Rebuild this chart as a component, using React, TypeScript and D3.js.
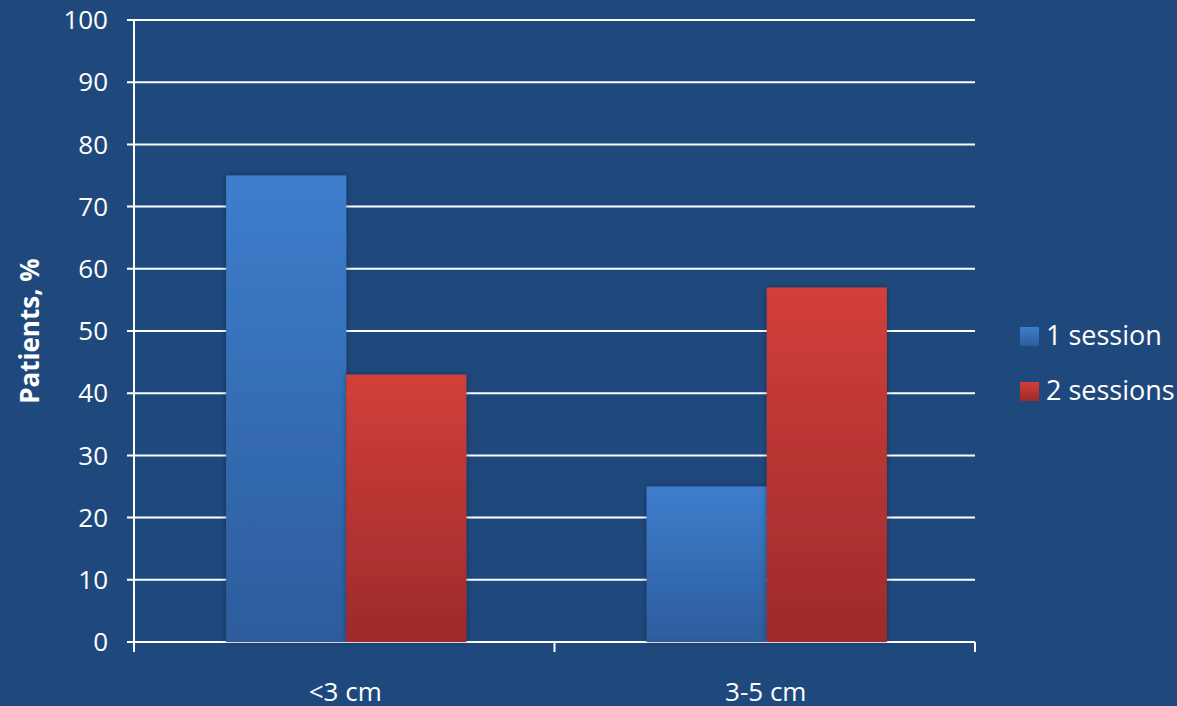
import React from "react";
import * as d3 from "d3";

const categories = ["<3 cm", "3-5 cm"];
const seriesNames = ["1 session", "2 sessions"];
const oneSession = [75, 25];
const twoSessions = [43, 57];
const yTicks = [0, 10, 20, 30, 40, 50, 60, 70, 80, 90, 100];

const W = 1177;
const H = 706;
const m = { left: 134, right: 975, top: 20, bottom: 642 };
const BG = "#1F497D";
const FONT = "'Open Sans', 'Noto Sans', sans-serif";

export default function App() {
  const x = d3.scaleBand<string>().domain(categories).range([m.left, m.right]).paddingInner(0).paddingOuter(0);
  const inner = d3.scaleBand<string>().domain(seriesNames).range([0, x.bandwidth()]).paddingInner(0).paddingOuter(0.75);
  const y = d3.scaleLinear().domain([0, 100]).range([m.bottom, m.top]);
  const series = [oneSession, twoSessions];
  const grads = ["gBlue", "gRed"];
  const boundaries = [m.left, ...categories.map((c) => (x(c) as number) + x.bandwidth())];

  return (
    <svg width={W} height={H} style={{ position: "absolute", left: 0, top: 0, display: "block" }} fontFamily={FONT}>
      <defs>
        <linearGradient id="gBlue" x1="0" y1="0" x2="0" y2="1" gradientUnits="objectBoundingBox">
          <stop offset="0" stopColor="#3D7ECD" />
          <stop offset="1" stopColor="#2D5C9C" />
        </linearGradient>
        <linearGradient id="gRed" x1="0" y1="0" x2="0" y2="1">
          <stop offset="0" stopColor="#D23F3A" />
          <stop offset="1" stopColor="#9D2A2B" />
        </linearGradient>
        <filter id="sh" x="-20%" y="-20%" width="140%" height="140%">
          <feDropShadow dx="0" dy="0" stdDeviation="3" floodColor="#000" floodOpacity="0.35" />
        </filter>
      </defs>
      <rect x={0} y={0} width={W} height={H} fill={BG} />
      {yTicks.map((t) => (
        <line key={t} x1={m.left - 7} x2={m.right} y1={y(t)} y2={y(t)} stroke="#fff" strokeWidth={2} />
      ))}
      <line x1={m.left} x2={m.left} y1={m.top} y2={m.bottom + 10} stroke="#fff" strokeWidth={2} />
      {boundaries.slice(1).map((b, i) => (
        <line key={i} x1={b} x2={b} y1={m.bottom} y2={m.bottom + 10} stroke="#fff" strokeWidth={2} />
      ))}
      {yTicks.map((t) => (
        <text key={t} x={m.left - 26} y={y(t)} dy="0.35em" textAnchor="end" fill="#fff" fontSize={26}>
          {t}
        </text>
      ))}
      {categories.map((c, ci) =>
        series.map((s, si) => {
          const bx = (x(c) as number) + (inner(seriesNames[si]) as number) + 2;
          return (
            <rect
              key={c + si}
              x={bx}
              y={y(s[ci])}
              width={inner.bandwidth()}
              height={y(0) - y(s[ci])}
              fill={`url(#${grads[si]})`}
              filter="url(#sh)"
            />
          );
        })
      )}
      {categories.map((c) => (
        <text key={c} x={(x(c) as number) + x.bandwidth() / 2 + 1} y={692} dy="0.35em" textAnchor="middle" fill="#fff" fontSize={26}>
          {c}
        </text>
      ))}
      <text
        transform={`translate(30, ${331}) rotate(-90)`}
        textAnchor="middle"
        dy="0.35em"
        fill="#fff"
        fontSize={26}
        fontWeight="bold"
      >
        Patients, %
      </text>
      {seriesNames.map((n, i) => (
        <g key={n} transform={`translate(1020, ${336 + i * 55})`}>
          <rect x={0} y={-9} width={19} height={19} fill={`url(#${grads[i]})`} />
          <text x={26} y={0} dy="0.35em" fill="#fff" fontSize={27}>
            {n}
          </text>
        </g>
      ))}
    </svg>
  );
}
